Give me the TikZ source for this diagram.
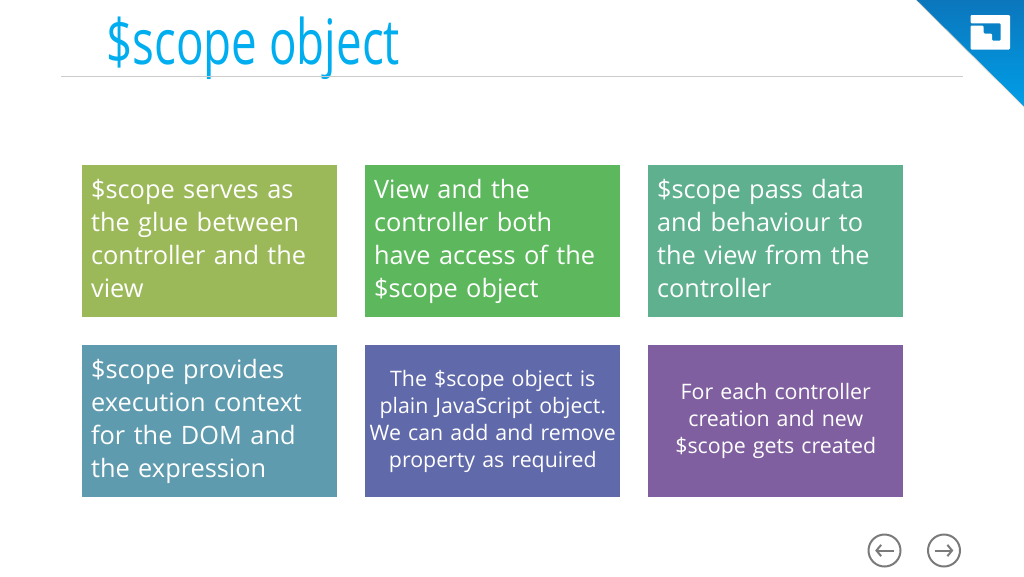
\documentclass[tikz,border=0pt]{standalone}
\usepackage{fontspec}
\setmainfont{Open Sans}
\newfontfamily\titlefont[FakeStretch=0.73]{Open Sans}
\usetikzlibrary{arrows.meta}
\definecolor{titleblue}{HTML}{00AEEF}
\definecolor{navgray}{HTML}{7A7A7A}
\definecolor{cornertop}{HTML}{0B76BC}
\definecolor{cornerbot}{HTML}{009FE8}
\definecolor{cardA}{HTML}{9CB95A}
\definecolor{cardB}{HTML}{5DB85D}
\definecolor{cardC}{HTML}{5FB08F}
\definecolor{cardD}{HTML}{5F9BAF}
\definecolor{cardE}{HTML}{6069A9}
\definecolor{cardF}{HTML}{7F5F9F}
\tikzset{
	card/.style={minimum width=191.25pt, minimum height=114pt, inner sep=0pt, anchor=north west},
	bigtext/.style={font=\fontsize{19}{24.75}\selectfont, text=white, align=left, text width=177pt, xshift=-0.5pt, execute at begin node=\strut, execute at end node=\strut},
	smalltext/.style={font=\fontsize{16}{20.25}\selectfont, text=white, align=center, text width=186pt, execute at begin node=\strut, execute at end node=\strut},
	navring/.style={draw=navgray, line width=1.5pt, circle, minimum size=24pt, inner sep=0pt},
	navarrow/.style={draw=navgray, line width=1.5pt, -{Straight Barb[length=3.5pt,width=8.5pt]}}
}
\begin{document}
\begin{tikzpicture}[x=0.75pt, y=-0.75pt]
	\useasboundingbox (0,0) rectangle (1024,576);

	% Title
	\node[font=\titlefont\fontsize{47}{54}\selectfont, text=titleblue, anchor=base west, inner sep=0pt] (title) at (106,64) {\$scope object};
	\draw[draw=black!20, line width=0.6pt] (61,76.5) -- (963,76.5);

	% Corner
	\shade[top color=cornertop, bottom color=cornerbot] (916,0) -- (1024,0) -- (1024,107) -- cycle;
	\draw[draw=brown!30, line width=0.5pt] (916,0) -- (1024,107);

	% Logo
	\fill[white, rounded corners=0.8pt] (970.5,15) -- (1010,15) -- (1010,49.5) -- (970.5,49.5) -- (970.5,25.5) -- (983.5,25.5) -- (983.5,33.5) -- (992,33.5) -- (992,40.7) -- (1000.7,40.7) -- (1000.7,23.3) -- (970.5,23.3) -- cycle;

	% Cards
	\node[card, fill=cardA] (glue) at (82,165) {};
	\node[card, fill=cardB] (access) at (365,165) {};
	\node[card, fill=cardC] (pass) at (648,165) {};
	\node[card, fill=cardD] (context) at (82,345) {};
	\node[card, fill=cardE] (plain) at (365,345) {};
	\node[card, fill=cardF] (created) at (648,345) {};

	% Card texts
	\node[bigtext] at (glue.center) {\$scope serves as\\the glue between\\controller and the\\view};
	\node[bigtext] at (access.center) {View and the\\controller both\\have access of the\\\$scope object};
	\node[bigtext] at (pass.center) {\$scope pass data\\and behaviour to\\the view from the\\controller};
	\node[bigtext] at (context.center) {\$scope provides\\execution context\\for the DOM and\\the expression};
	\node[smalltext] at (plain.center) {The \$scope object is\\plain JavaScript object.\\We can add and remove\\property as required};
	\node[smalltext] at (created.center) {For each controller\\creation and new\\\$scope gets created};

	% Navigation
	\node[navring] (prev) at (884.5,550.5) {};
	\node[navring] (next) at (944,550.5) {};
	\draw[navarrow] ([xshift=7pt]prev.center) -- ([xshift=-7pt]prev.center);
	\draw[navarrow] ([xshift=-7pt]next.center) -- ([xshift=7pt]next.center);
\end{tikzpicture}
\end{document}
